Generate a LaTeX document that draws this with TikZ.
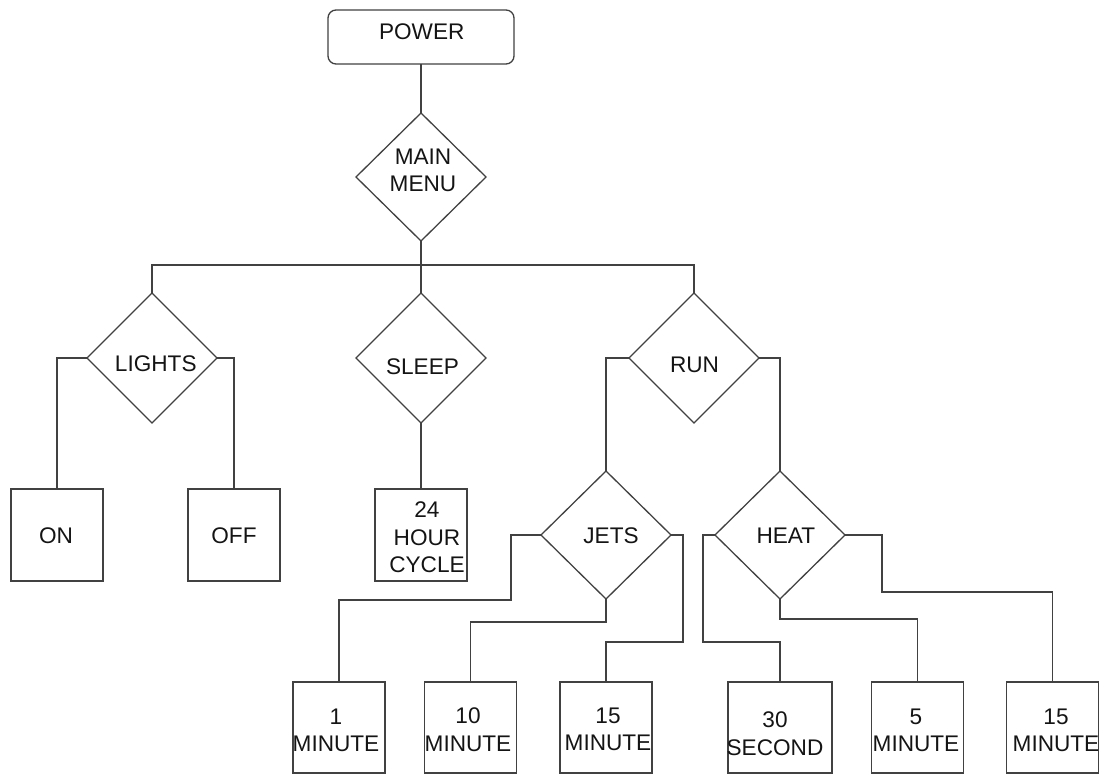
\documentclass[tikz,border=0pt]{standalone}
\usepackage{fontspec}
\setmainfont{Liberation Sans}
\usetikzlibrary{shapes.geometric}
\definecolor{ln}{RGB}{65,65,65}
\definecolor{tx}{RGB}{20,20,20}
\tikzset{
  base/.style={draw=ln, line width=0.65pt, inner sep=0pt, outer sep=0pt},
  dia/.style={base, diamond, minimum width=65pt, minimum height=65pt},
  dias/.style={base, diamond, minimum width=65pt, minimum height=64pt},
  boxn/.style={base, rectangle, minimum width=46pt, minimum height=46pt},
  lab/.style={inner sep=0pt, outer sep=0pt, text=tx, align=center, font=\fontsize{11.3}{13.8}\selectfont},
  conn/.style={draw=ln, line width=0.65pt},
}
\begin{document}
\begin{tikzpicture}[x=0.5pt, y=-0.5pt]
\useasboundingbox (0,0) rectangle (1104,775);
% top
\node[base, rectangle, rounded corners=4pt, minimum width=93pt, minimum height=27pt,
  label={[lab, shift={(0.7,-5)}]center:POWER}] (power) at (421,37) {};
\node[dias, label={[lab, shift={(2,-6.5)}]center:MAIN\\MENU}] (main) at (421,177) {};
% second level
\node[dia, label={[lab, shift={(3.8,5.5)}]center:LIGHTS}] (lights) at (152,358) {};
\node[dia, label={[lab, shift={(1.5,8.5)}]center:SLEEP}] (sleep) at (421,358) {};
\node[dia, label={[lab, shift={(0.5,7)}]center:RUN}] (run) at (694,358) {};
% third level
\node[boxn, label={[lab, shift={(-1,1)}]center:ON}] (on) at (57,535) {};
\node[boxn, label={[lab, shift={(0,1)}]center:OFF}] (off) at (234,535) {};
\node[boxn, label={[lab, shift={(6,2.5)}]center:24\\HOUR\\CYCLE}] (cycle) at (421,535) {};
\node[dias, label={[lab, shift={(5,1)}]center:JETS}] (jets) at (606,535) {};
\node[dias, label={[lab, shift={(5.8,1)}]center:HEAT}] (heat) at (780,535) {};
% bottom row
\node[boxn, minimum height=45.5pt, label={[lab, shift={(-3,3)}]center:1\\MINUTE}] (m1) at (339,727.5) {};
\node[boxn, minimum height=45.5pt, label={[lab, shift={(-2.5,2)}]center:10\\MINUTE}] (m10) at (470.5,727.5) {};
\node[boxn, minimum height=45.5pt, label={[lab, shift={(2,2)}]center:15\\MINUTE}] (m15a) at (606,727.5) {};
\node[boxn, minimum width=52pt, minimum height=45.5pt, label={[lab, shift={(-5,6)}]center:30\\SECOND}] (s30) at (780,727.5) {};
\node[boxn, minimum height=45.5pt, label={[lab, shift={(-1.5,3)}]center:5\\MINUTE}] (m5) at (917.5,727.5) {};
\node[boxn, minimum height=45.5pt, label={[lab, shift={(3.5,3)}]center:15\\MINUTE}] (m15b) at (1052.5,727.5) {};
% connectors
\coordinate (bus) at (421,265);
\draw[conn] (power.south) -- (main.north);
\draw[conn] (main.south) -- (sleep.north);
\draw[conn] (lights.north) -- (lights.north |- bus) -- (run.north |- bus) -- (run.north);
\draw[conn] (lights.west) -| (on.north);
\draw[conn] (lights.east) -| (off.north);
\draw[conn] (sleep.south) -- (cycle.north);
\draw[conn] (run.west) -| (jets.north);
\draw[conn] (run.east) -| (heat.north);
\draw[conn] (jets.west) -- ++(-30,0) -- ++(0,65) -| (m1.north);
\draw[conn] (jets.south) -- ++(0,23) -| (m10.north);
\draw[conn] (jets.east) -- ++(12,0) -- ++(0,107) -| (m15a.north);
\draw[conn] (heat.west) -- ++(-12,0) -- ++(0,107) -| (s30.north);
\draw[conn] (heat.south) -- ++(0,20) -| (m5.north);
\draw[conn] (heat.east) -- ++(37,0) -- ++(0,57) -| (m15b.north);
\end{tikzpicture}
\end{document}
